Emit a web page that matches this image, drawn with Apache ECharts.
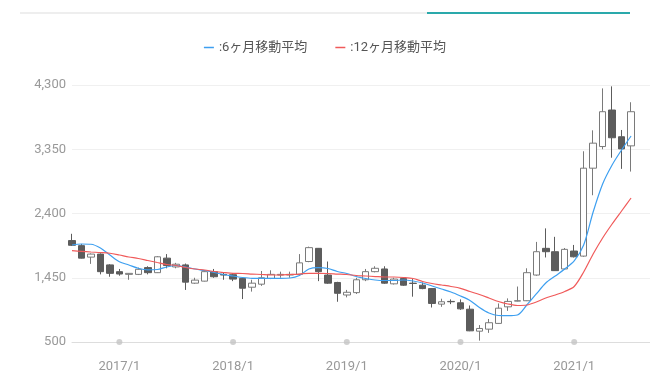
<!DOCTYPE html>
<html><head><meta charset="utf-8">
<script src="https://cdn.jsdelivr.net/npm/echarts@6/dist/echarts.min.js"></script>
<style>html,body{margin:0;padding:0;background:#fff}#c{width:650px;height:385px}</style>
</head><body><div id="c"></div>
<script>
const categories = ['2016/8','2016/9','2016/10','2016/11','2016/12',
'2017/1','2017/2','2017/3','2017/4','2017/5','2017/6','2017/7','2017/8','2017/9','2017/10','2017/11','2017/12',
'2018/1','2018/2','2018/3','2018/4','2018/5','2018/6','2018/7','2018/8','2018/9','2018/10','2018/11','2018/12',
'2019/1','2019/2','2019/3','2019/4','2019/5','2019/6','2019/7','2019/8','2019/9','2019/10','2019/11','2019/12',
'2020/1','2020/2','2020/3','2020/4','2020/5','2020/6','2020/7','2020/8','2020/9','2020/10','2020/11','2020/12',
'2021/1','2021/2','2021/3','2021/4','2021/5','2021/6','2021/7','2021/8','2021/9'];

// [open, close, low, high]
const candles = [
[2000,1930,1920,2100],[1925,1740,1735,1950],[1755,1800,1655,1810],[1800,1540,1500,1810],[1640,1515,1465,1650],
[1540,1505,1480,1580],[1500,1515,1420,1520],[1500,1575,1490,1600],[1600,1525,1500,1620],[1525,1760,1520,1770],
[1740,1630,1590,1800],[1610,1650,1590,1670],[1640,1385,1270,1660],[1370,1415,1360,1450],[1400,1540,1395,1545],
[1540,1465,1450,1580],[1500,1490,1420,1520],
[1495,1430,1400,1520],[1440,1295,1135,1450],[1310,1370,1245,1420],[1355,1450,1330,1550],[1440,1500,1430,1560],
[1490,1500,1450,1540],[1490,1500,1450,1540],[1500,1670,1490,1800],[1690,1895,1680,1910],[1885,1540,1400,1890],
[1490,1370,1360,1690],[1380,1220,1095,1390],
[1195,1235,1160,1270],[1230,1420,1210,1450],[1420,1540,1400,1580],[1540,1590,1530,1620],[1580,1370,1360,1620],
[1360,1430,1350,1450],[1440,1340,1330,1460],[1370,1365,1170,1430],[1340,1290,1280,1380],[1290,1070,1010,1295],
[1060,1095,1020,1140],[1100,1095,1060,1130],
[1080,990,975,1130],[985,665,660,1040],[660,700,520,750],[690,785,635,840],[775,1000,770,1070],
[1020,1100,960,1145],[1105,1110,1100,1320],[1110,1525,1105,1590],[1490,1835,1480,1980],[1885,1835,1750,2180],
[1835,1555,1550,2055],[1580,1870,1570,1890],
[1845,1760,1750,1935],[1770,3070,1760,3320],[3070,3440,2670,3630],[3390,3905,3350,4250],[3930,3520,3225,4280],
[3535,3355,3060,3635],[3400,3905,3020,4045],'-','-'];

const ma6 = [1934,1949,1945,1890,1786,1687,1639,1590,1565,1572,1609,1631,1609,1579,1557,1528,1498,
1476,1454,1442,1442,1442,1442,1446,1483,1579,1599,1587,1542,
1513,1468,1439,1417,1409,1409,1417,1402,1372,1328,1284,1239,
1180,1114,1010,929,892,889,899,1047,1210,1372,1476,1579,
1698,1934,2422,2836,3117,3339,3546,null,null];

const ma12 = [1850,1841,1831,1823,1812,1786,1757,1735,1705,1675,1646,1631,1602,1579,1565,1542,1528,
1516,1513,1505,1498,1491,1491,1498,1505,1516,1516,1513,1505,
1498,1483,1476,1468,1461,1461,1454,1439,1395,1365,1343,1321,
1294,1247,1202,1151,1099,1062,1040,1047,1091,1151,1195,1247,
1321,1535,1801,2038,2245,2437,2629,null,null];

const yearMarks = ['2017/1','2018/1','2019/1','2020/1','2021/1'];
const yMin = 500, yMax = 4300, yStep = 950;

const chart = echarts.init(document.getElementById('c'), null, {renderer:'canvas'});
const font = 'Roboto, "Noto Sans CJK JP", sans-serif';
chart.setOption({
  animation:false,
  textStyle:{fontFamily:font},
  graphic:[
    {type:'rect', shape:{x:20,y:12,width:407,height:2}, style:{fill:'#eeeeee'}},
    {type:'rect', shape:{x:427,y:12,width:203,height:2}, style:{fill:'#2aa9ab'}}
  ],
  legend:{
    top:36, left:'center', itemGap:28, itemWidth:10, itemHeight:1.5, icon:'rect',
    textStyle:{color:'#555', fontSize:13, fontFamily:font},
    data:[':6ヶ月移動平均',':12ヶ月移動平均']
  },
  grid:{left:72, top:85, right:0, height:257},
  xAxis:{
    type:'category', data:categories, boundaryGap:false,
    axisLine:{lineStyle:{color:'#dddddd'}},
    axisTick:{show:false},
    axisLabel:{color:'#999', fontSize:13, margin:18,
      interval:(i,v)=>yearMarks.indexOf(v)>=0},
    splitLine:{show:false}
  },
  yAxis:{
    type:'value', min:yMin, max:yMax, interval:yStep,
    axisLine:{show:false}, axisTick:{show:false},
    axisLabel:{color:'#999', fontSize:13, margin:6,
      formatter:v=>v.toLocaleString('en-US')},
    splitLine:{lineStyle:{color:'#f0f0f0'}}
  },
  series:[
    {type:'candlestick', data:candles, barWidth:7,
     itemStyle:{color:'#ffffff', color0:'#5c5c5c', borderColor:'#7a7a7a', borderColor0:'#5c5c5c', borderWidth:1}},
    {name:':6ヶ月移動平均', type:'line', data:ma6, smooth:0.3, showSymbol:false,
     lineStyle:{color:'#3d9ff0', width:1.2}, itemStyle:{color:'#3d9ff0'}},
    {name:':12ヶ月移動平均', type:'line', data:ma12, smooth:0.3, showSymbol:false,
     lineStyle:{color:'#f05a5a', width:1.2}, itemStyle:{color:'#f05a5a'}},
    {type:'scatter', data:yearMarks.map(m=>[m,yMin]), symbolSize:6, clip:false, silent:true,
     itemStyle:{color:'#c4c4c4'}, z:5}
  ]
});
</script></body></html>
